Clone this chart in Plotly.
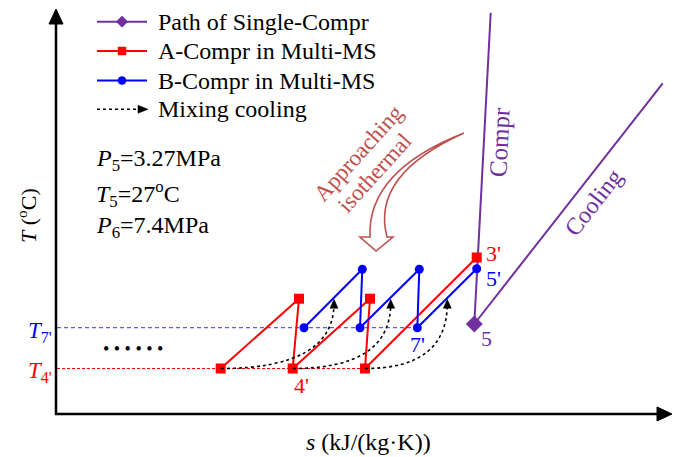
import plotly.graph_objects as go

W, H = 678, 457


def Y(py):
    return H - py


# ---- schematic data (s and T in arbitrary schematic units) ----
single_s = [490.7, 474.3, 662.7]          # Compr top, point 5, Cooling end
single_T = [444.3, 133.0, 373.7]
a_s = [220.7, 299.0, 292.7, 370.0, 365.0, 476.7]   # A-Compr (ends at 3')
a_T = [88.5, 158.3, 88.5, 158.3, 88.5, 199.5]
b_s = [304.0, 362.3, 360.0, 419.3, 417.3, 476.7]   # B-Compr (ends at 5')
b_T = [129.3, 187.7, 129.3, 187.7, 129.3, 188.3]
mix_start_s = [220.7, 292.7, 365.0]
mix_start_T = [88.5, 88.5, 88.5]
mix_end_s = [334.0, 390.7, 447.3]
mix_end_T = [157.7, 157.7, 157.7]
T7_level = 129.3
T4_level = 88.5

legend_names = ["Path of Single-Compr", "A-Compr in Multi-MS", "B-Compr in Multi-MS", "Mixing cooling"]

PURPLE = "#7030A0"
RED = "#FF0000"
BLUE = "#0000FF"
BROWN = "#C0504D"
FONT = "Liberation Serif"

fig = go.Figure()

# data traces
fig.add_trace(go.Scatter(x=single_s, y=single_T, mode="lines", name=legend_names[0],
                         line=dict(color=PURPLE, width=2), showlegend=False))
fig.add_trace(go.Scatter(x=[single_s[1]], y=[single_T[1]], mode="markers", name="5",
                         marker=dict(symbol="diamond", size=13, color=PURPLE),
                         showlegend=False))
fig.add_trace(go.Scatter(x=a_s, y=a_T, mode="lines+markers", name=legend_names[1],
                         line=dict(color=RED, width=2),
                         marker=dict(symbol="square", size=10, color=RED),
                         showlegend=False))
fig.add_trace(go.Scatter(x=b_s, y=b_T, mode="lines+markers", name=legend_names[2],
                         line=dict(color=BLUE, width=2),
                         marker=dict(symbol="circle", size=9, color=BLUE),
                         showlegend=False))

shapes = []
annotations = []

# axes with arrowheads
ax0, ay0 = 56, 414
shapes.append(dict(type="line", x0=ax0, y0=Y(ay0 + 1), x1=ax0, y1=Y(22), line=dict(color="black", width=2.5)))
shapes.append(dict(type="path", path=f"M {ax0-7},{Y(24)} L {ax0},{Y(9)} L {ax0+7},{Y(24)} Z",
                   fillcolor="black", line=dict(color="black", width=1)))
shapes.append(dict(type="line", x0=ax0 - 1, y0=Y(ay0), x1=660, y1=Y(ay0), line=dict(color="black", width=2.5)))
shapes.append(dict(type="path", path=f"M 657,{Y(ay0-7)} L 672,{Y(ay0)} L 657,{Y(ay0+7)} Z",
                   fillcolor="black", line=dict(color="black", width=1)))

# reference dashed levels
shapes.append(dict(type="line", x0=ax0 + 1, x1=b_s[4], y0=T7_level, y1=T7_level,
                   line=dict(color="#5A5AFF", width=1.3, dash="4px,3px"), layer="below"))
shapes.append(dict(type="line", x0=ax0 + 1, x1=a_s[4], y0=T4_level, y1=T4_level,
                   line=dict(color=RED, width=1, dash="3px,2px"), layer="below"))

# mixing cooling curves + arrowheads
for s0, t0, s1, t1 in zip(mix_start_s, mix_start_T, mix_end_s, mix_end_T):
    shapes.append(dict(type="path", path=f"M {s0},{t0} Q {s1},{t0} {s1},{t1 - 4}",
                       line=dict(color="black", width=1.6, dash="dot")))
    shapes.append(dict(type="path", path=f"M {s1-4},{t1-9} L {s1},{t1} L {s1+4},{t1-9} Z",
                       fillcolor="black", line=dict(color="black", width=0.5)))

# curved hollow arrow "Approaching isothermal"
arrow_path = (f"M 464,{Y(133)} Q 367,{Y(171)} 370,{Y(237)} "
              f"L 360,{Y(237)} L 376,{Y(251)} L 393,{Y(237)} L 387,{Y(237)} "
              f"Q 370.5,{Y(175)} 464,{Y(133)} Z")
shapes.append(dict(type="path", path=arrow_path, fillcolor="white",
                   line=dict(color=BROWN, width=1.6)))

# ---- manual legend (layout decoration) ----
leg_x0, leg_x1, leg_xm = 97, 147, 122
leg_rows = [21.7, 51, 80.5, 109.3]
shapes.append(dict(type="line", x0=leg_x0, x1=leg_x1, y0=Y(leg_rows[0]), y1=Y(leg_rows[0]),
                   line=dict(color=PURPLE, width=2)))
shapes.append(dict(type="path", fillcolor=PURPLE, line=dict(color=PURPLE, width=1),
                   path=f"M {leg_xm-5.5},{Y(leg_rows[0])} L {leg_xm},{Y(leg_rows[0]-5.5)} "
                        f"L {leg_xm+5.5},{Y(leg_rows[0])} L {leg_xm},{Y(leg_rows[0]+5.5)} Z"))
shapes.append(dict(type="line", x0=leg_x0, x1=leg_x1, y0=Y(leg_rows[1]), y1=Y(leg_rows[1]),
                   line=dict(color=RED, width=2)))
shapes.append(dict(type="rect", x0=leg_xm - 4, x1=leg_xm + 4, y0=Y(leg_rows[1] - 4), y1=Y(leg_rows[1] + 4),
                   fillcolor=RED, line=dict(color=RED, width=0.5)))
shapes.append(dict(type="line", x0=leg_x0, x1=leg_x1, y0=Y(leg_rows[2]), y1=Y(leg_rows[2]),
                   line=dict(color=BLUE, width=2)))
shapes.append(dict(type="circle", x0=leg_xm - 4, x1=leg_xm + 4, y0=Y(leg_rows[2] - 4), y1=Y(leg_rows[2] + 4),
                   fillcolor=BLUE, line=dict(color=BLUE, width=0.5)))
shapes.append(dict(type="line", x0=leg_x0, x1=139, y0=Y(leg_rows[3]), y1=Y(leg_rows[3]),
                   line=dict(color="black", width=1.6, dash="dot")))
shapes.append(dict(type="path", fillcolor="black", line=dict(color="black", width=0.5),
                   path=f"M 138,{Y(leg_rows[3]-4)} L 148,{Y(leg_rows[3])} L 138,{Y(leg_rows[3]+4)} Z"))


def txt(x, py, text, color="black", size=24, xanchor="center", angle=0):
    annotations.append(dict(x=x, y=Y(py), text=text, showarrow=False, xanchor=xanchor,
                            yanchor="middle", textangle=angle,
                            font=dict(family=FONT, size=size, color=color)))


for name, row in zip(legend_names, leg_rows):
    txt(156, row, name, xanchor="left", size=24)

txt(358, 153, "Approaching", color=BROWN, size=23, angle=-48)
txt(374, 173, "isothermal", color=BROWN, size=23, angle=-48)
txt(499, 142, "Compr", color=PURPLE, size=25, angle=-87)
txt(593, 203, "Cooling", color=PURPLE, size=24, angle=-52)
txt(484, 253, "3'", color=RED, size=22, xanchor="left")
txt(484, 278, "5'", color=BLUE, size=22, xanchor="left")
txt(486, 338, "5", color=PURPLE, size=22)
txt(417, 344, "7'", color=BLUE, size=22)
txt(301, 385, "4'", color=RED, size=22)

txt(94, 160, "<i>P</i><sub>5</sub>=3.27MPa", xanchor="left")
txt(94, 194, "<i>T</i><sub>5</sub>=27<sup>o</sup>C", xanchor="left")
txt(94, 227, "<i>P</i><sub>6</sub>=7.4MPa", xanchor="left")

txt(54, 332, "<i>T</i><sub>7'</sub>", color=BLUE, size=23, xanchor="right")
txt(54, 372, "<i>T</i><sub>4'</sub>", color=RED, size=23, xanchor="right")
txt(133, 349, "\u2022 \u2022 \u2022 \u2022 \u2022 \u2022", size=18)

txt(368, 442, "<i>s</i> (kJ/(kg\u00b7K))", size=24)
txt(27, 216, "<i>T</i> (<sup>o</sup>C)", size=22, angle=-90)

fig.update_layout(
    width=W, height=H, autosize=False,
    margin=dict(l=0, r=0, t=0, b=0),
    paper_bgcolor="white", plot_bgcolor="white",
    xaxis=dict(range=[0, W], visible=False, fixedrange=True),
    yaxis=dict(range=[0, H], visible=False, fixedrange=True),
    shapes=shapes, annotations=annotations,
    showlegend=False,
)

fig.write_html("out.html")
